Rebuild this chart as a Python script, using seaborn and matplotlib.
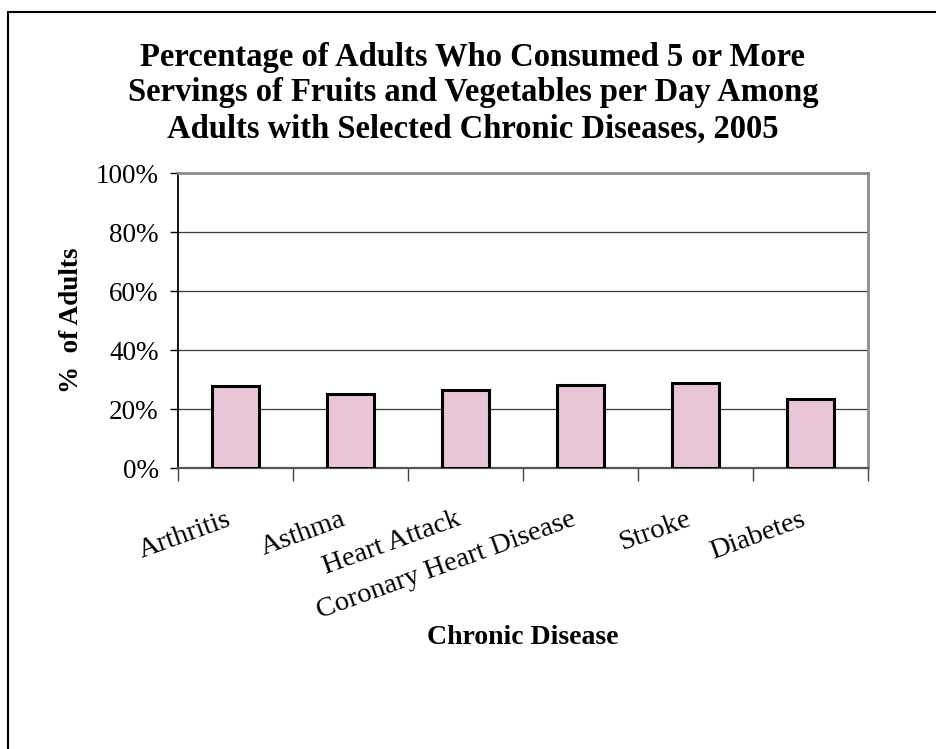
import matplotlib
matplotlib.use("Agg")
import matplotlib.pyplot as plt
import seaborn as sns
import pandas as pd
from matplotlib.lines import Line2D
from matplotlib.ticker import FixedLocator, PercentFormatter
from matplotlib.transforms import ScaledTranslation

# Share of adults eating 5+ servings of fruit/vegetables per day, by condition (2005)
diseases = ["Arthritis", "Asthma", "Heart Attack", "Coronary Heart Disease", "Stroke", "Diabetes"]
pct_adults = [27.7, 25.0, 26.3, 28.3, 28.8, 23.4]
y_ticks = [0, 20, 40, 60, 80, 100]

title_text = ("Percentage of Adults Who Consumed 5 or More\n"
              "Servings of Fruits and Vegetables per Day Among\n"
              "Adults with Selected Chronic Diseases, 2005")
x_label = "Chronic Disease"
y_label = "%  of Adults"

df = pd.DataFrame({"disease": diseases, "pct": pct_adults})

sns.set_theme(style="white")
plt.rcParams["font.family"] = ["Liberation Serif", "DejaVu Serif"]
plt.rcParams["text.color"] = "black"
plt.rcParams["xtick.color"] = "black"
plt.rcParams["ytick.color"] = "black"
plt.rcParams["axes.labelcolor"] = "black"

W, H = 937, 749
fig = plt.figure(figsize=(W / 100, H / 100), dpi=100)
ax = fig.add_axes([178 / W, 1 - 468 / H, (868 - 178) / W, (468 - 173) / H])

sns.barplot(data=df, x="disease", y="pct", ax=ax, color="#e8c6d8",
            width=0.41, edgecolor="black", linewidth=2.2, saturation=1, zorder=3)

ax.set_xlim(-0.5, len(diseases) - 0.5)
ax.set_ylim(0, 100)
ax.yaxis.set_major_locator(FixedLocator(y_ticks))
ax.yaxis.set_major_formatter(PercentFormatter(decimals=0))
for v in y_ticks[1:-1]:
    ax.axhline(v, color="#3a3a3a", linewidth=0.9, zorder=1)

# Spines: black left axis, grey frame elsewhere
ax.spines["left"].set_color("black")
ax.spines["left"].set_linewidth(1.3)
ax.spines["bottom"].set_color("#555555")
ax.spines["bottom"].set_linewidth(1.6)
for s in ("top", "right"):
    ax.spines[s].set_color("#8c8c8c")
    ax.spines[s].set_linewidth(2.0)

# Category ticks sit between bars; labels at bar centres
ax.set_xticks([i - 0.5 for i in range(len(diseases) + 1)])
ax.set_xticklabels([])
ax.tick_params(axis="x", which="major", direction="out", length=9, width=1.0,
               color="#444444", bottom=True)
ax.set_xticks(range(len(diseases)), minor=True)
ax.set_xticklabels(diseases, minor=True, rotation=20, ha="right",
                   rotation_mode="anchor", fontsize=20.5)
ax.tick_params(axis="x", which="minor", length=0, pad=28)
shift = ScaledTranslation(-10 / 100, 0, fig.dpi_scale_trans)
for lab in ax.get_xticklabels(minor=True):
    lab.set_transform(lab.get_transform() + shift)
ax.tick_params(axis="y", direction="out", length=6, width=1.0, color="black",
               left=True, labelsize=19.5, pad=8)

ax.set_xlabel("")
ax.set_ylabel("")

fig.text(523 / W, 1 - 637 / H, x_label, ha="center", va="center",
         fontsize=20, fontweight="bold")
fig.text(72 / W, 1 - 320 / H, y_label, ha="center", va="center", rotation=90,
         fontsize=19.5, fontweight="bold")
fig.text(473 / W, 1 - 93 / H, title_text, ha="center", va="center",
         fontsize=23.5, fontweight="bold", linespacing=1.2)

# Outer chart frame (top and left edges)
fig.add_artist(Line2D([8 / W, 1], [1 - 11.5 / H, 1 - 11.5 / H], color="black",
                      linewidth=1.5, transform=fig.transFigure))
fig.add_artist(Line2D([8 / W, 8 / W], [1 - 11.5 / H, 0], color="black",
                      linewidth=1.5, transform=fig.transFigure))

fig.savefig("out.png", dpi=100, facecolor="white")
